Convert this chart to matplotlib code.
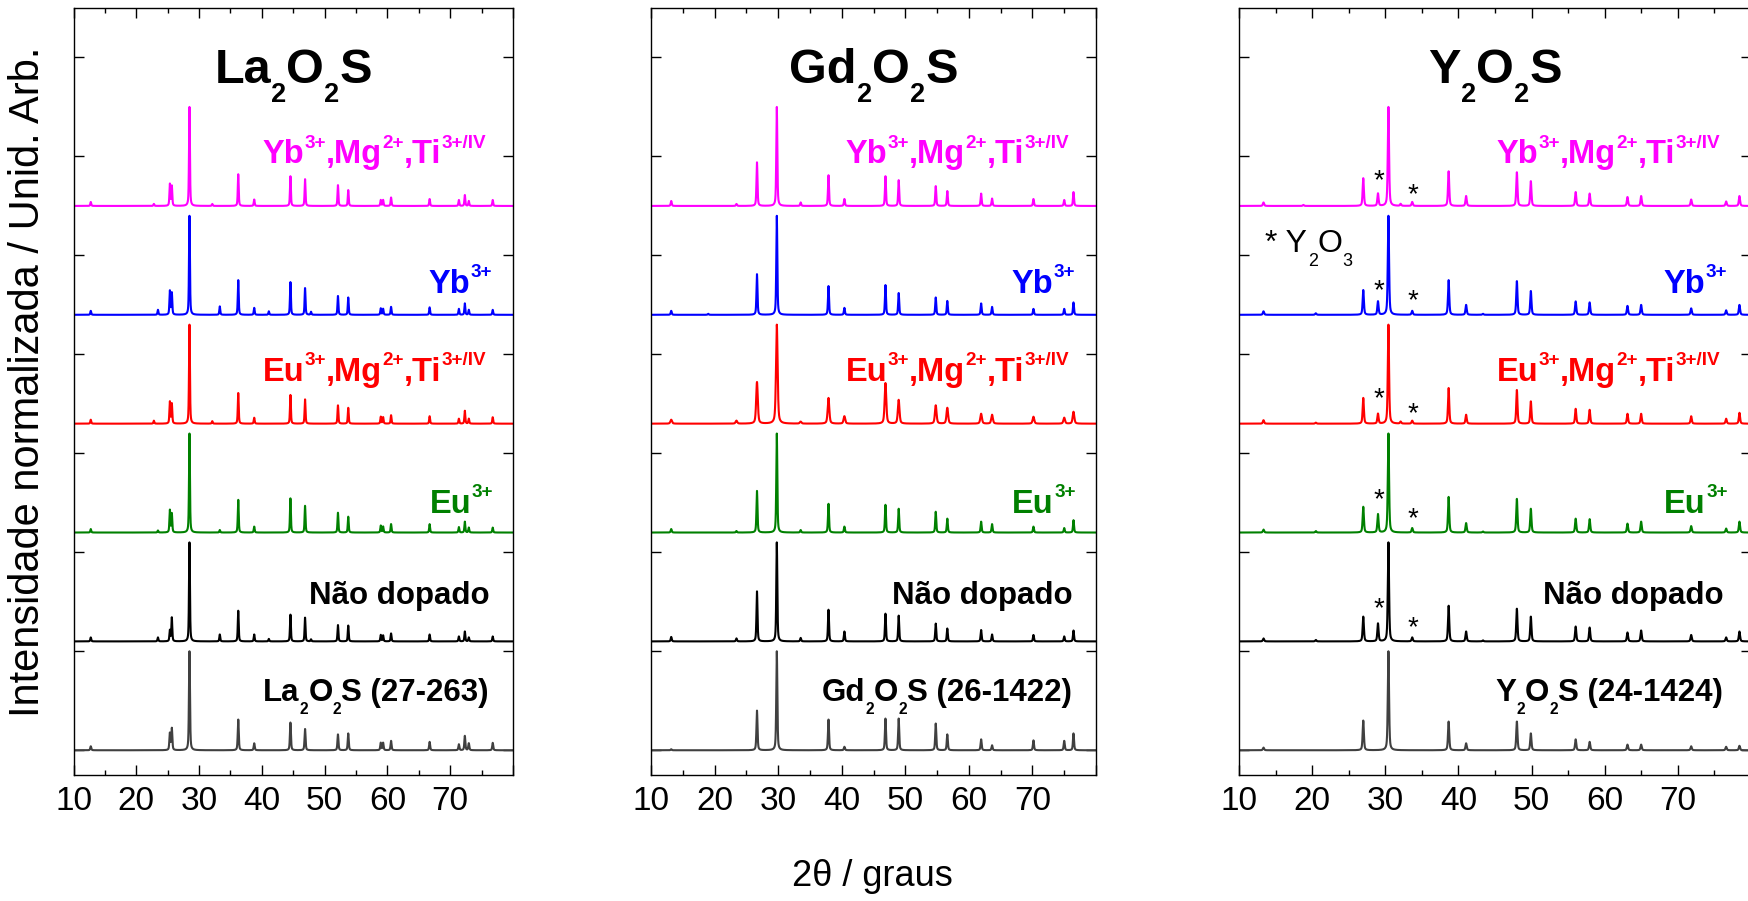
import re
import numpy as np
import matplotlib.pyplot as plt
from matplotlib.font_manager import FontProperties, findfont, get_font
from matplotlib.transforms import offset_copy

plt.rcParams['font.family'] = ['Liberation Sans', 'DejaVu Sans']

# samples, top to bottom in each panel
colors = ['#ff00ff', '#0000ff', '#ff0000', '#008000', '#000000', '#404040']
sample_labels = ['Yb^{3+},Mg^{2+},Ti^{3+/IV}', 'Yb^{3+}',
                 'Eu^{3+},Mg^{2+},Ti^{3+/IV}', 'Eu^{3+}',
                 'Não dopado', None]
label_sizes = [23.5, 23.5, 23.5, 23.5, 22.5, 22.5]
label_x = [75.8, 76.7, 75.8, 76.8, 76.3, 76.2]
label_dy = [0.43, 0.22, 0.43, 0.20, 0.38, 0.50]
offset_step = 1.1

# La2O2S: peak positions (2theta) and normalised heights per sample
la_pos = [12.75, 22.8, 23.45, 25.35, 25.66, 28.47, 32.1, 33.3, 36.24, 38.78, 41.11, 44.55,
          46.88, 47.83, 52.12, 53.76, 58.94, 59.31, 60.58, 66.72, 71.38, 72.33, 72.96, 76.77]
la_heights = [
    [0.04, 0.02, 0, 0.22, 0.20, 1.0, 0.02, 0, 0.32, 0.065, 0, 0.30, 0.27, 0, 0.21, 0.16, 0.06, 0.06, 0.085, 0.07, 0.06, 0.11, 0.05, 0.06],
    [0.04, 0, 0.05, 0.24, 0.22, 1.0, 0, 0.085, 0.35, 0.07, 0.035, 0.33, 0.27, 0.03, 0.19, 0.175, 0.065, 0.06, 0.08, 0.075, 0.06, 0.115, 0.05, 0.05],
    [0.04, 0.03, 0, 0.22, 0.20, 1.0, 0.025, 0, 0.31, 0.06, 0, 0.29, 0.245, 0, 0.185, 0.16, 0.07, 0.065, 0.085, 0.075, 0.05, 0.13, 0.05, 0.065],
    [0.035, 0, 0.02, 0.225, 0.19, 1.0, 0, 0.025, 0.33, 0.06, 0, 0.345, 0.27, 0, 0.2, 0.16, 0.07, 0.06, 0.085, 0.085, 0.055, 0.11, 0.05, 0.05],
    [0.04, 0, 0.04, 0.11, 0.24, 1.0, 0, 0.07, 0.31, 0.07, 0.025, 0.27, 0.24, 0.02, 0.165, 0.16, 0.065, 0.06, 0.08, 0.07, 0.05, 0.10, 0.04, 0.05],
    [0.04, 0, 0, 0.17, 0.22, 1.0, 0, 0, 0.31, 0.07, 0, 0.28, 0.215, 0, 0.16, 0.17, 0.075, 0.075, 0.095, 0.085, 0.06, 0.145, 0.07, 0.075],
]
la_fwhm = [0.17, 0.17, 0.17, 0.17, 0.17, 0.19]

# Gd2O2S
gd_pos = [13.18, 19.0, 23.44, 26.67, 29.79, 33.54, 37.92, 40.42, 46.88, 48.96, 54.79, 56.61,
          61.93, 63.65, 70.16, 75.0, 76.46]
gd_heights = [
    [0.05, 0, 0.02, 0.44, 1.0, 0.035, 0.31, 0.07, 0.30, 0.26, 0.20, 0.15, 0.125, 0.075, 0.07, 0.06, 0.14],
    [0.04, 0.01, 0, 0.41, 1.0, 0, 0.29, 0.07, 0.30, 0.22, 0.175, 0.14, 0.115, 0.08, 0.06, 0.06, 0.125],
    [0.04, 0, 0.03, 0.42, 1.0, 0.02, 0.26, 0.075, 0.41, 0.24, 0.185, 0.16, 0.10, 0.09, 0.07, 0.06, 0.12],
    [0.035, 0, 0.015, 0.42, 1.0, 0.025, 0.29, 0.06, 0.28, 0.24, 0.21, 0.14, 0.11, 0.085, 0.06, 0.045, 0.125],
    [0.045, 0, 0.03, 0.505, 1.0, 0.035, 0.32, 0.10, 0.28, 0.26, 0.18, 0.13, 0.115, 0.07, 0.065, 0.05, 0.11],
    [0.01, 0, 0, 0.40, 1.0, 0, 0.31, 0.035, 0.32, 0.32, 0.27, 0.16, 0.11, 0.05, 0.10, 0.095, 0.17],
]
gd_fwhm = [0.19, 0.19, 0.30, 0.19, 0.19, 0.2]

# Y2O2S
y_pos = [13.35, 18.8, 20.5, 26.99, 29.0, 30.43, 32.1, 33.68, 38.66, 41.05, 43.35, 47.99,
         49.9, 56.03, 57.94, 63.11, 64.98, 71.82, 76.6, 78.42]
y_heights = [
    [0.035, 0.01, 0, 0.28, 0.125, 1.0, 0.02, 0.04, 0.35, 0.10, 0, 0.34, 0.25, 0.14, 0.125, 0.09, 0.10, 0.065, 0.045, 0.10],
    [0.035, 0, 0.015, 0.25, 0.135, 1.0, 0, 0.04, 0.35, 0.10, 0.01, 0.34, 0.24, 0.135, 0.125, 0.09, 0.10, 0.065, 0.045, 0.10],
    [0.035, 0, 0.01, 0.26, 0.10, 1.0, 0.02, 0.03, 0.36, 0.09, 0, 0.34, 0.225, 0.15, 0.14, 0.10, 0.10, 0.075, 0.05, 0.11],
    [0.03, 0, 0.015, 0.26, 0.185, 1.0, 0, 0.045, 0.36, 0.095, 0.01, 0.34, 0.24, 0.14, 0.135, 0.09, 0.11, 0.065, 0.04, 0.11],
    [0.03, 0, 0.015, 0.25, 0.18, 1.0, 0, 0.04, 0.36, 0.10, 0.01, 0.33, 0.25, 0.15, 0.14, 0.09, 0.11, 0.065, 0.04, 0.10],
    [0.027, 0, 0, 0.30, 0, 1.0, 0, 0, 0.29, 0.07, 0, 0.29, 0.17, 0.11, 0.085, 0.057, 0.057, 0.04, 0.035, 0.045],
]
y_fwhm = [0.2, 0.2, 0.2, 0.2, 0.2, 0.2]

# Y2O3 impurity marks: positions and height above each trace baseline (first five samples)
y2o3_pos = [29.1, 33.8]
y2o3_dy = [[0.25, 0.24, 0.25, 0.33, 0.33],
           [0.11, 0.135, 0.10, 0.13, 0.13]]

panels = [
    ('La_{2}O_{2}S', 'La_{2}O_{2}S (27-263)', la_pos, la_heights, la_fwhm),
    ('Gd_{2}O_{2}S', 'Gd_{2}O_{2}S (26-1422)', gd_pos, gd_heights, gd_fwhm),
    ('Y_{2}O_{2}S', 'Y_{2}O_{2}S (24-1424)', y_pos, y_heights, y_fwhm),
]
# axes left/right edges in pixels
panel_px = [(73.5, 513), (651, 1096), (1239, 1751)]

two_theta = np.arange(10, 80.001, 0.01)


def pattern(pos, heights, fwhm):
    y = np.zeros_like(two_theta)
    hw = fwhm / 2
    for p, h in zip(pos, heights):
        if h == 0:
            continue
        u = (two_theta - p) / hw
        y += h * (0.5 / (1 + u**2) + 0.5 * np.exp(-np.log(2) * u**2))
    return y


def advance(txt, prop):
    # pen advance of a string in points (no kerning)
    font = get_font(findfont(prop))
    font.set_size(prop.get_size_in_points(), 72)
    return sum(font.load_char(ord(c)).linearHoriAdvance / 65536 for c in txt)


def rich_text(ax, x, y, s, size, color='black', weight='bold', ha='right',
              sub_scale=0.5, sub_drop=0.42):
    """Draw s with Origin-like ^{..} / _{..} pieces, laid out side by side in points."""
    parts, i = [], 0
    for m in re.finditer(r'([_^])\{([^}]*)\}', s):
        if m.start() > i:
            parts.append((s[i:m.start()], ''))
        parts.append((m.group(2), m.group(1)))
        i = m.end()
    if i < len(s):
        parts.append((s[i:], ''))

    pieces, total = [], 0.0
    for txt, kind in parts:
        if kind == '^':
            fs, dy = size * 0.58, size * 0.48
        elif kind == '_':
            fs, dy = size * sub_scale, -size * sub_drop
        else:
            fs, dy = size, 0.0
        prop = FontProperties(family='Liberation Sans', weight=weight, size=fs)
        pieces.append((txt, fs, total, dy))
        total += advance(txt, prop)
    start = {'right': -total, 'center': -total / 2, 'left': 0.0}[ha]
    for txt, fs, dx, dy in pieces:
        tr = offset_copy(ax.transData, fig=ax.figure, x=start + dx, y=dy, units='points')
        ax.text(x, y, txt, transform=tr, fontsize=fs, fontweight=weight, color=color,
                ha='left', va='baseline')


W, H = 1748, 901
fig = plt.figure(figsize=(W / 100, H / 100), dpi=100)

for (title, ref_label, pos, heights, fwhm), (l, r) in zip(panels, panel_px):
    ax = fig.add_axes([l / W, (H - 775) / H, (r - l) / W, (775 - 8) / H])
    n = len(heights)
    for i in range(n):
        base = offset_step * (n - 1 - i)
        ax.plot(two_theta, base + pattern(pos, heights[i], fwhm[i]), color=colors[i], lw=1.5)
        text = sample_labels[i] if sample_labels[i] is not None else ref_label
        txt_color = colors[i] if i < 4 else 'black'
        rich_text(ax, label_x[i], base + label_dy[i], text, label_sizes[i], color=txt_color)
    rich_text(ax, 45, 6.74, title, 35, ha='center', sub_scale=0.56, sub_drop=0.38)

    if title.startswith('Y_'):
        for k, p in enumerate(y2o3_pos):
            for i in range(5):
                base = offset_step * (n - 1 - i)
                ax.text(p, base + y2o3_dy[k][i], '*', fontsize=20, ha='center', va='center')
        rich_text(ax, 13.6, 5.03, '* Y_{2}O_{3}', 23, weight='normal', ha='left', sub_scale=0.56)

    ax.set_xlim(10, 80)
    ax.set_ylim(-0.25, 7.5)
    ax.set_xticks(np.arange(10, 81, 10))
    ax.set_xticklabels([str(v) for v in range(10, 80, 10)] + [''])
    ax.set_xticks(np.arange(15, 80, 10), minor=True)
    ax.set_yticks(np.arange(0, 8))
    ax.set_yticklabels([])
    ax.tick_params(which='both', direction='in', top=True, right=True, width=1.0)
    ax.tick_params(which='major', length=7, labelsize=24, pad=8)
    ax.tick_params(which='minor', length=3.5)
    for s in ax.spines.values():
        s.set_linewidth(1.0)

fig.text(28 / W, 1 - 382 / H, 'Intensidade normalizada / Unid. Arb.', fontsize=30,
         rotation=90, ha='center', va='center')
fig.text(872 / W, 1 - 877 / H, '2θ / graus', fontsize=26, ha='center', va='center')

fig.savefig('out.png', dpi=100)
